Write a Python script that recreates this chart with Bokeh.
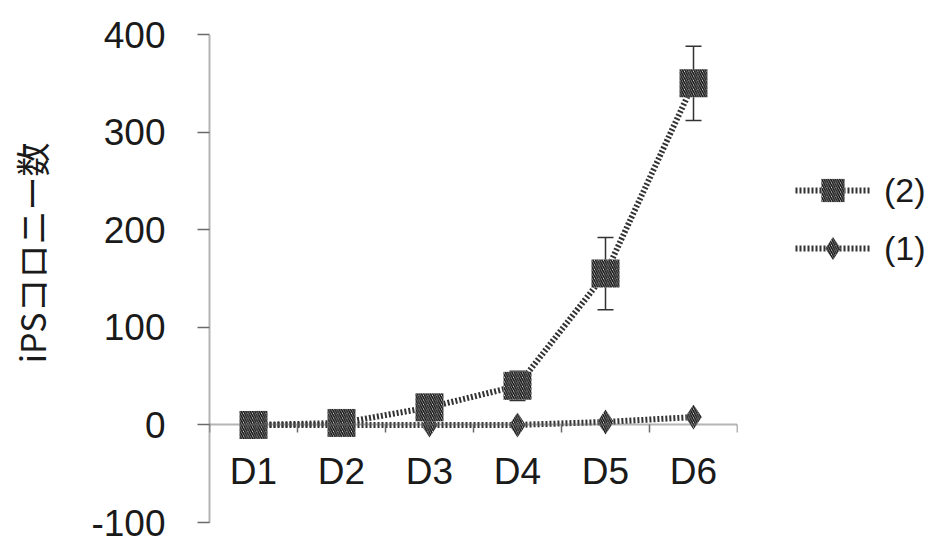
from bokeh.plotting import figure
from bokeh.layouts import row
from bokeh.models import (Range1d, LinearAxis, FixedTicker, Whisker, TeeHead,
                          ColumnDataSource, Legend, LegendItem)
from bokeh.embed import file_html
from bokeh.resources import INLINE

# Colony counts per day
days = ["D1", "D2", "D3", "D4", "D5", "D6"]
series2_label = "(2)"
series2 = [0, 2, 18, 40, 155, 350]
series2_err = [0, 1, 5, 15, 37, 38]
series1_label = "(1)"
series1 = [0, 0, 0, 0, 3, 8]
y_ticks = [-100, 0, 100, 200, 300, 400]
y_title = "iPSコロニー数"

xs = [i + 0.5 for i in range(len(days))]
boundaries = list(range(len(days) + 1))

TICK_FONT = "Liberation Sans"
INK = "#1a1a1a"
AXIS = "#6a6a6a"

p = figure(width=742, height=543, output_backend="svg", toolbar_location=None,
           x_range=Range1d(0, len(days)), y_range=Range1d(y_ticks[0], y_ticks[-1]),
           min_border_left=209, min_border_right=5,
           min_border_top=34, min_border_bottom=21,
           x_axis_type=None, y_axis_type=None)
p.outline_line_color = None
p.xgrid.visible = False
p.ygrid.visible = False
p.background_fill_color = "white"
p.border_fill_color = "white"

# y axis (leading ideographic/en spaces lift the title slightly above centre)
yaxis = LinearAxis(ticker=FixedTicker(ticks=y_ticks),
                   axis_label="\u3000\u2002" + y_title,
                   major_label_overrides={t: str(t) for t in y_ticks})
yaxis.axis_line_color = AXIS
yaxis.axis_line_width = 2
yaxis.axis_line_dash = "1 1"
yaxis.major_tick_line_color = AXIS
yaxis.major_tick_line_width = 1.5
yaxis.major_tick_out = 12
yaxis.major_tick_in = 0
yaxis.minor_tick_line_color = None
yaxis.major_label_standoff = 32
yaxis.major_label_text_font = TICK_FONT
yaxis.major_label_text_font_size = "37px"
yaxis.major_label_text_color = INK
yaxis.axis_label_standoff = 32
yaxis.axis_label_text_font = "Noto Sans CJK JP"
yaxis.axis_label_text_font_size = "34px"
yaxis.axis_label_text_font_style = "normal"
yaxis.axis_label_text_color = INK
p.add_layout(yaxis, "left")

# x axis line with ticks at the category boundaries, drawn at y = 0
xaxis_ticks = LinearAxis(ticker=FixedTicker(ticks=boundaries), fixed_location=0)
xaxis_ticks.axis_line_color = AXIS
xaxis_ticks.axis_line_width = 2
xaxis_ticks.axis_line_dash = "1 1"
xaxis_ticks.major_tick_line_color = AXIS
xaxis_ticks.major_tick_line_width = 1.5
xaxis_ticks.major_tick_out = 8
xaxis_ticks.major_tick_in = 0
xaxis_ticks.minor_tick_line_color = None
xaxis_ticks.major_label_text_font_size = "0px"
xaxis_ticks.major_label_text_color = None
p.add_layout(xaxis_ticks, "below")

# day labels centred on each category
xaxis_labels = LinearAxis(ticker=FixedTicker(ticks=xs), fixed_location=0,
                          major_label_overrides={x: d for x, d in zip(xs, days)})
xaxis_labels.axis_line_color = None
xaxis_labels.major_tick_line_color = None
xaxis_labels.minor_tick_line_color = None
xaxis_labels.major_tick_out = 0
xaxis_labels.major_label_standoff = 26
xaxis_labels.major_label_text_font = TICK_FONT
xaxis_labels.major_label_text_font_size = "37px"
xaxis_labels.major_label_text_color = INK
p.add_layout(xaxis_labels, "below")

src1 = ColumnDataSource(dict(x=xs, y=series1))
src2 = ColumnDataSource(dict(x=xs, y=series2,
                             lo=[v - e for v, e in zip(series2, series2_err)],
                             hi=[v + e for v, e in zip(series2, series2_err)]))

LINE_KW = dict(line_color="#333333", line_width=6, line_dash="2 2")
HATCH_KW = dict(fill_color="white", hatch_pattern="\\", hatch_color="#111111",
                hatch_scale=4.5, hatch_weight=1.6, line_color=None)

# series (1): diamonds
p.line("x", "y", source=src1, **LINE_KW)
p.scatter("x", "y", source=src1, marker="diamond", size=25, **HATCH_KW)

# series (2): squares with error bars
err = Whisker(base="x", lower="lo", upper="hi", source=src2, dimension="height",
              line_color="#333333", line_width=1.5,
              upper_head=TeeHead(size=16, line_color="#333333", line_width=1.5),
              lower_head=TeeHead(size=16, line_color="#333333", line_width=1.5))
p.add_layout(err)
p.line("x", "y", source=src2, **LINE_KW)
p.scatter("x", "y", source=src2, marker="square", size=28, **HATCH_KW)

# legend panel to the right of the chart; its ranges keep the series
# themselves out of view so that only the legend keys show
q = figure(width=194, height=543, output_backend="svg", toolbar_location=None,
           x_range=Range1d(-2, -1), y_range=Range1d(-2, -1),
           min_border=0, x_axis_type=None, y_axis_type=None)
q.outline_line_color = None
q.xgrid.visible = False
q.ygrid.visible = False
q.background_fill_color = "white"
q.border_fill_color = "white"

k2_line = q.line("x", "y", source=src2, **LINE_KW)
k2_mark = q.scatter("x", "y", source=src2, marker="square", **HATCH_KW)
k1_line = q.line("x", "y", source=src1, **LINE_KW)
k1_mark = q.scatter("x", "y", source=src1, marker="diamond", **HATCH_KW)

legend = Legend(items=[LegendItem(label=series2_label, renderers=[k2_line, k2_mark]),
                       LegendItem(label=series1_label, renderers=[k1_line, k1_mark])],
                location=(53, 245), orientation="vertical",
                glyph_width=75, glyph_height=58, label_height=58,
                label_standoff=14, spacing=0, padding=0, margin=0,
                border_line_color=None, background_fill_alpha=0,
                label_text_font=TICK_FONT, label_text_font_size="34px",
                label_text_color=INK)
q.add_layout(legend, "center")

layout = row(p, q, spacing=0)
open("out.html", "w").write(file_html(layout, INLINE))
